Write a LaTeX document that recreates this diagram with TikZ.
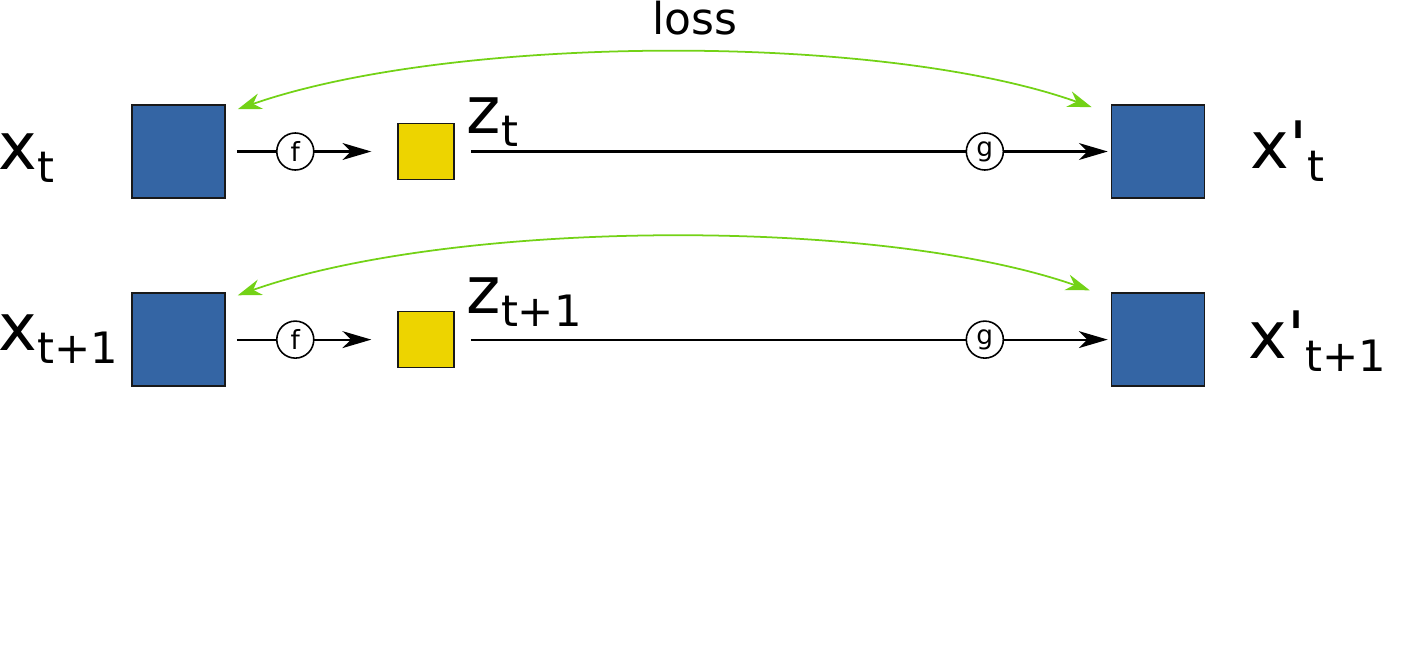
\documentclass[tikz,border=0pt]{standalone}
\usepackage{fontspec}
\usepackage{tikz}
\usetikzlibrary{arrows.meta, positioning}
\usepackage{xcolor}
\newfontfamily\dejavu{DejaVu Sans}
\definecolor{boxblue}{HTML}{3465A4}
\definecolor{boxyellow}{HTML}{EDD400}
\definecolor{lossgreen}{HTML}{73D216}
\newcommand{\seqlbl}[2]{{\fontsize{18.6}{20}\selectfont #1}\raisebox{-3.8pt}{\fontsize{12.3}{14}\selectfont #2}}

\begin{document}
\begin{tikzpicture}[x=0.01cm,y=-0.01cm,node distance=2.475cm,on grid,font=\dejavu]
    \tikzstyle{bigbox}=[draw=black!90,line width=0.45pt,fill=boxblue,minimum size=0.93cm,inner sep=0pt]
    \tikzstyle{smallbox}=[draw=black!90,line width=0.45pt,fill=boxyellow,minimum size=0.56cm,inner sep=0pt]
    \tikzstyle{opnode}=[circle,draw,fill=white,line width=0.45pt,minimum size=0.37cm,inner sep=0pt,font=\dejavu\fontsize{7.5}{8}\selectfont]
    \tikzstyle{lab}=[anchor=base west,inner sep=0pt]
    \tikzstyle{fwd}=[-{Stealth[length=8.2pt,width=4.8pt,inset=2.4pt]},line width=0.6pt]
    \tikzstyle{lossarc}=[lossgreen,line width=0.5pt,{Stealth[length=6.8pt,width=4.6pt,inset=2.2pt]}-{Stealth[length=6.8pt,width=4.6pt,inset=2.2pt]}]

    \useasboundingbox (0,0) rectangle (1402,645);

    \node[bigbox] (X1) at (178.5,151.5) {};
    \node[smallbox, right=of X1] (Z1) {};
    \node[bigbox, right=7.315cm of Z1] (Y1) {};
    \node[bigbox, below=1.88cm of X1] (X2) {};
    \node[smallbox, below=1.88cm of Z1] (Z2) {};
    \node[bigbox, below=1.88cm of Y1] (Y2) {};

    \node[lab] (LX1) at (-2,169) {\seqlbl{x}{t}};
    \node[lab] (LZ1) at (466,133) {\seqlbl{z}{t}};
    \node[lab] (LY1) at (1250,168) {\seqlbl{x'}{t}};
    \node[lab] (LX2) at (-2,350) {\seqlbl{x}{t+1}};
    \node[lab] (LZ2) at (466,313) {\seqlbl{z}{t+1}};
    \node[lab] (LY2) at (1248,358) {\seqlbl{x'}{t+1}};

    \path[fwd,draw]
    (X1) edge[shorten <=0.11cm, shorten >=0.26cm] node[opnode,pos=0.405] {f} (Z1)
    (Z1) edge[shorten <=0.16cm, shorten >=0.03cm] node[opnode,pos=0.808] {g} (Y1)
    (X2) edge[shorten <=0.11cm, shorten >=0.26cm] node[opnode,pos=0.405] {f} (Z2)
    (Z2) edge[shorten <=0.16cm, shorten >=0.03cm] node[opnode,pos=0.808] {g} (Y2)
    ;

    \draw[lossarc] ([shift={(12,5)}]X1.north east) .. controls +(215,-75) and +(-210,-75) .. ([shift={(-19,3)}]Y1.north west);
    \draw[lossarc] ([shift={(12,3)}]X2.north east) .. controls +(215,-76) and +(-212,-74) .. ([shift={(-21,-2)}]Y2.north west);
    \node[anchor=base,font=\dejavu\fontsize{12.5}{14}\selectfont] (loss) at (695,34) {loss};

  \end{tikzpicture}
\end{document}
